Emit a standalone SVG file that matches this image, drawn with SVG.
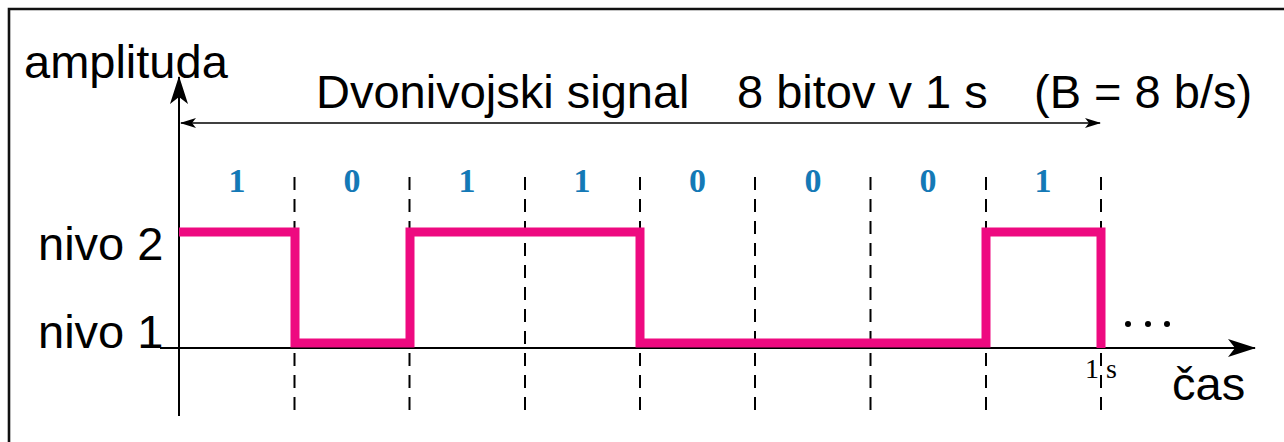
<svg xmlns="http://www.w3.org/2000/svg" width="1284" height="442" viewBox="0 0 1284 442">
  <defs>
    <style>
      .lbl { font-family: "Liberation Sans", Arial, sans-serif; font-size: 47px; fill: #000; }
      .bit { font-family: "Liberation Serif", "Times New Roman", serif; font-size: 34px; font-weight: bold; fill: #1479b6; text-anchor: middle; }
      .tick { font-family: "Liberation Serif", "Times New Roman", serif; font-size: 28px; fill: #000; }
      .axis { stroke: #000; stroke-width: 2; fill: none; }
      .span { stroke: #000; stroke-width: 1.6; fill: none; }
      .grid { stroke: #000; stroke-width: 2; stroke-dasharray: 13 9; fill: none; }
      .sig { stroke: #ee0a80; stroke-width: 9; fill: none; stroke-linejoin: miter; stroke-linecap: butt; }
    </style>
    <marker id="headBig" viewBox="0 0 28 18" refX="27" refY="9" markerWidth="28" markerHeight="18" markerUnits="userSpaceOnUse" orient="auto">
      <path d="M0,0 L28,9 L0,18 L7,9 Z" fill="#000"/>
    </marker>
    <marker id="headSmall" viewBox="0 0 16 10" refX="15" refY="5" markerWidth="16" markerHeight="10" markerUnits="userSpaceOnUse" orient="auto-start-reverse">
      <path d="M0,0 L16,5 L0,10 L4,5 Z" fill="#000"/>
    </marker>
  </defs>

  <rect width="1284" height="442" fill="#fff"/>
  <!-- frame: only the left and top edges fall inside the canvas -->
  <path d="M9,442 V9 H1284" stroke="#111" stroke-width="2.6" fill="none"/>

  <!-- bit-slot boundaries -->
  <g id="slots">
    <line class="grid" x1="294.5" y1="177" x2="294.5" y2="416"/>
    <line class="grid" x1="409.5" y1="177" x2="409.5" y2="416"/>
    <line class="grid" x1="525" y1="177" x2="525" y2="416"/>
    <line class="grid" x1="640" y1="177" x2="640" y2="416"/>
    <line class="grid" x1="755" y1="177" x2="755" y2="416"/>
    <line class="grid" x1="870.5" y1="177" x2="870.5" y2="416"/>
    <line class="grid" x1="986" y1="177" x2="986" y2="416"/>
    <line class="grid" x1="1101" y1="177" x2="1101" y2="416"/>
  </g>

  <!-- axes and span arrow -->
  <g id="connectors">
    <line id="y-axis" class="axis" x1="179" y1="416" x2="179" y2="77" marker-end="url(#headBig)"/>
    <line id="t-axis" class="axis" x1="160" y1="348" x2="1255" y2="348" marker-end="url(#headBig)"/>
    <line id="span" class="span" x1="181" y1="123" x2="1100" y2="123" marker-start="url(#headSmall)" marker-end="url(#headSmall)"/>
  </g>

  <!-- two-level waveform -->
  <g id="signal">
    <path class="sig" d="M179,232 H295 V343 H410 V232 H640 V343 H986 V232 H1101 V348"/>
  </g>

  <!-- bit values -->
  <g id="bits">
    <text class="bit" x="237" y="192">1</text>
    <text class="bit" x="352" y="192">0</text>
    <text class="bit" x="467" y="192">1</text>
    <text class="bit" x="582" y="192">1</text>
    <text class="bit" x="697.5" y="192">0</text>
    <text class="bit" x="813" y="192">0</text>
    <text class="bit" x="928" y="192">0</text>
    <text class="bit" x="1043" y="192">1</text>
  </g>

  <g id="labels">
    <text class="lbl" x="24" y="78">amplituda</text>
    <text class="lbl" x="316" y="108">Dvonivojski signal</text>
    <text class="lbl" x="737" y="108">8 bitov v 1 s</text>
    <text class="lbl" x="1034" y="108">(B = 8 b/s)</text>
    <text class="lbl" x="38" y="260">nivo 2</text>
    <text class="lbl" x="38" y="348">nivo 1</text>
    <text class="lbl" x="1172" y="400">čas</text>
    <text class="tick" x="1085" y="378">1 s</text>
  </g>

  <!-- continuation dots -->
  <g id="more" fill="#000">
    <circle cx="1128" cy="324" r="3"/>
    <circle cx="1148" cy="324" r="3"/>
    <circle cx="1167" cy="324" r="3"/>
  </g>
</svg>
